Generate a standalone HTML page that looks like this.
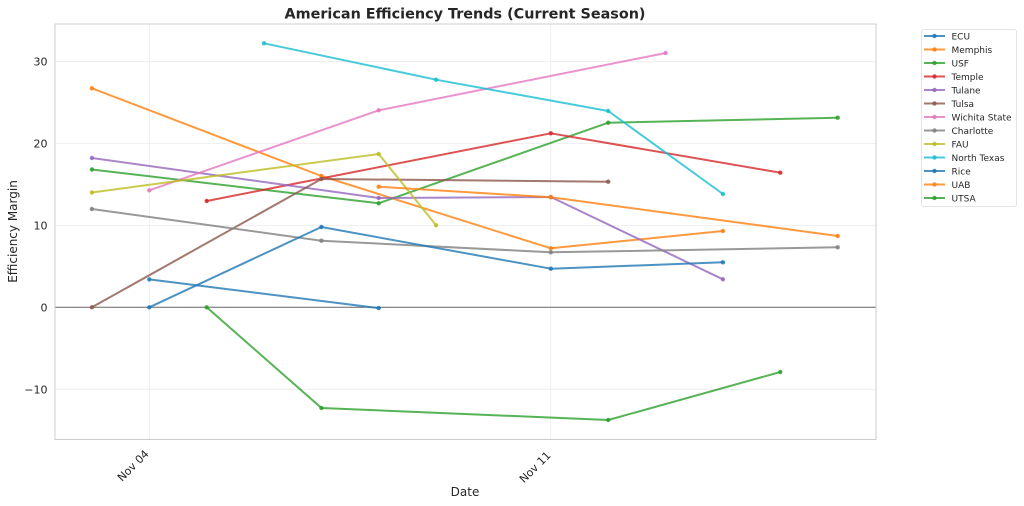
<!DOCTYPE html>
<html><head><meta charset="utf-8"><style>
html,body{margin:0;padding:0;background:#fff;}
svg{display:block;font-family:"DejaVu Sans","Liberation Sans",sans-serif;}
</style></head><body>
<svg width="1024" height="506" viewBox="0 0 1024 506" xmlns="http://www.w3.org/2000/svg">
<rect width="1024" height="506" fill="#fff"/>
<!-- grid -->
<g stroke="#ebebeb" stroke-width="0.8">
<line x1="55" y1="61.7" x2="876" y2="61.7"/>
<line x1="55" y1="143.5" x2="876" y2="143.5"/>
<line x1="55" y1="225.4" x2="876" y2="225.4"/>
<line x1="55" y1="389.3" x2="876" y2="389.3"/>
<line x1="149.3" y1="24" x2="149.3" y2="439.5"/>
<line x1="550.8" y1="24" x2="550.8" y2="439.5"/>
</g>
<!-- zero line -->
<line x1="55" y1="307.3" x2="876" y2="307.3" stroke="#666" stroke-width="1"/>
<!-- spines -->
<rect x="55" y="24" width="821" height="415.5" fill="none" stroke="#cccccc" stroke-width="1"/>
<!-- series -->
<g fill="none" stroke-width="2" stroke-opacity="0.8" stroke-linejoin="round" stroke-linecap="round">
<polyline stroke="#1f77b4" points="149.3,279.4 378.7,308.1"/>
<polyline stroke="#ff7f0e" points="91.9,88.3 321.4,176 550.8,248.3 722.9,231"/>
<polyline stroke="#2ca02c" points="91.9,169.5 378.7,203.3 608.2,122.7 837.7,117.7"/>
<polyline stroke="#d62728" points="206.7,201 550.8,133.3 780.3,172.7"/>
<polyline stroke="#9467bd" points="91.9,158 378.7,198 550.8,197 722.9,279.3"/>
<polyline stroke="#8c564b" points="91.9,307.3 321.4,179 608.2,181.7"/>
<polyline stroke="#e377c2" points="149.3,190.3 378.7,110.3 665.6,53"/>
<polyline stroke="#7f7f7f" points="91.9,209 321.4,240.7 550.8,252.3 837.7,247.3"/>
<polyline stroke="#bcbd22" points="91.9,192.5 378.7,154 436.1,225.3"/>
<polyline stroke="#17becf" points="264,43.3 436.1,79.7 608.2,111 722.9,194"/>
<polyline stroke="#1f77b4" points="149.3,307.3 321.4,227 550.8,268.7 722.9,262.3"/>
<polyline stroke="#ff7f0e" points="378.7,186.7 550.8,197.3 837.7,236"/>
<polyline stroke="#2ca02c" points="206.7,307.3 321.4,408 608.2,420 780.3,372"/>
</g>
<g fill-opacity="0.85">
<g fill="#1f77b4"><circle cx="149.3" cy="279.4" r="2.2"/><circle cx="378.7" cy="308.1" r="2.2"/></g>
<g fill="#ff7f0e"><circle cx="91.9" cy="88.3" r="2.2"/><circle cx="321.4" cy="176" r="2.2"/><circle cx="550.8" cy="248.3" r="2.2"/><circle cx="722.9" cy="231" r="2.2"/></g>
<g fill="#2ca02c"><circle cx="91.9" cy="169.5" r="2.2"/><circle cx="378.7" cy="203.3" r="2.2"/><circle cx="608.2" cy="122.7" r="2.2"/><circle cx="837.7" cy="117.7" r="2.2"/></g>
<g fill="#d62728"><circle cx="206.7" cy="201" r="2.2"/><circle cx="550.8" cy="133.3" r="2.2"/><circle cx="780.3" cy="172.7" r="2.2"/></g>
<g fill="#9467bd"><circle cx="91.9" cy="158" r="2.2"/><circle cx="378.7" cy="198" r="2.2"/><circle cx="550.8" cy="197" r="2.2"/><circle cx="722.9" cy="279.3" r="2.2"/></g>
<g fill="#8c564b"><circle cx="91.9" cy="307.3" r="2.2"/><circle cx="321.4" cy="179" r="2.2"/><circle cx="608.2" cy="181.7" r="2.2"/></g>
<g fill="#e377c2"><circle cx="149.3" cy="190.3" r="2.2"/><circle cx="378.7" cy="110.3" r="2.2"/><circle cx="665.6" cy="53" r="2.2"/></g>
<g fill="#7f7f7f"><circle cx="91.9" cy="209" r="2.2"/><circle cx="321.4" cy="240.7" r="2.2"/><circle cx="550.8" cy="252.3" r="2.2"/><circle cx="837.7" cy="247.3" r="2.2"/></g>
<g fill="#bcbd22"><circle cx="91.9" cy="192.5" r="2.2"/><circle cx="378.7" cy="154" r="2.2"/><circle cx="436.1" cy="225.3" r="2.2"/></g>
<g fill="#17becf"><circle cx="264" cy="43.3" r="2.2"/><circle cx="436.1" cy="79.7" r="2.2"/><circle cx="608.2" cy="111" r="2.2"/><circle cx="722.9" cy="194" r="2.2"/></g>
<g fill="#1f77b4"><circle cx="149.3" cy="307.3" r="2.2"/><circle cx="321.4" cy="227" r="2.2"/><circle cx="550.8" cy="268.7" r="2.2"/><circle cx="722.9" cy="262.3" r="2.2"/></g>
<g fill="#ff7f0e"><circle cx="378.7" cy="186.7" r="2.2"/><circle cx="550.8" cy="197.3" r="2.2"/><circle cx="837.7" cy="236" r="2.2"/></g>
<g fill="#2ca02c"><circle cx="206.7" cy="307.3" r="2.2"/><circle cx="321.4" cy="408" r="2.2"/><circle cx="608.2" cy="420" r="2.2"/><circle cx="780.3" cy="372" r="2.2"/></g>
</g>
<!-- y tick labels -->
<g font-size="11" fill="#262626" text-anchor="end">
<text x="47.5" y="65.7">30</text>
<text x="47.5" y="147.5">20</text>
<text x="47.5" y="229.4">10</text>
<text x="47.5" y="311.3">0</text>
<text x="47.5" y="393.3">−10</text>
</g>
<!-- x tick labels -->
<g font-size="11" fill="#262626" text-anchor="end">
<text transform="translate(149.5,454.5) rotate(-45)">Nov 04</text>
<text transform="translate(551.5,456) rotate(-45)">Nov 11</text>
</g>
<!-- axis labels -->
<text x="465" y="496" font-size="12" fill="#262626" text-anchor="middle">Date</text>
<text transform="translate(17,231.5) rotate(-90)" font-size="12" fill="#262626" text-anchor="middle">Efficiency Margin</text>
<!-- title -->
<text x="465" y="18.5" font-size="14" font-weight="bold" fill="#262626" text-anchor="middle" textLength="361" lengthAdjust="spacingAndGlyphs">American Efficiency Trends (Current Season)</text>
<!-- legend -->
<rect x="921.5" y="29.5" width="95" height="177" rx="2.5" fill="#fff" fill-opacity="0.8" stroke="#dddddd" stroke-width="0.8"/>
<g stroke-width="2" stroke-opacity="0.8">
<line x1="924" y1="36" x2="945" y2="36" stroke="#1f77b4"/>
<line x1="924" y1="49.5" x2="945" y2="49.5" stroke="#ff7f0e"/>
<line x1="924" y1="63" x2="945" y2="63" stroke="#2ca02c"/>
<line x1="924" y1="76.5" x2="945" y2="76.5" stroke="#d62728"/>
<line x1="924" y1="90" x2="945" y2="90" stroke="#9467bd"/>
<line x1="924" y1="103.5" x2="945" y2="103.5" stroke="#8c564b"/>
<line x1="924" y1="117" x2="945" y2="117" stroke="#e377c2"/>
<line x1="924" y1="130.5" x2="945" y2="130.5" stroke="#7f7f7f"/>
<line x1="924" y1="144" x2="945" y2="144" stroke="#bcbd22"/>
<line x1="924" y1="157.5" x2="945" y2="157.5" stroke="#17becf"/>
<line x1="924" y1="171" x2="945" y2="171" stroke="#1f77b4"/>
<line x1="924" y1="184.5" x2="945" y2="184.5" stroke="#ff7f0e"/>
<line x1="924" y1="198" x2="945" y2="198" stroke="#2ca02c"/>
</g>
<g fill-opacity="0.85">
<circle cx="934.5" cy="36" r="2.2" fill="#1f77b4"/>
<circle cx="934.5" cy="49.5" r="2.2" fill="#ff7f0e"/>
<circle cx="934.5" cy="63" r="2.2" fill="#2ca02c"/>
<circle cx="934.5" cy="76.5" r="2.2" fill="#d62728"/>
<circle cx="934.5" cy="90" r="2.2" fill="#9467bd"/>
<circle cx="934.5" cy="103.5" r="2.2" fill="#8c564b"/>
<circle cx="934.5" cy="117" r="2.2" fill="#e377c2"/>
<circle cx="934.5" cy="130.5" r="2.2" fill="#7f7f7f"/>
<circle cx="934.5" cy="144" r="2.2" fill="#bcbd22"/>
<circle cx="934.5" cy="157.5" r="2.2" fill="#17becf"/>
<circle cx="934.5" cy="171" r="2.2" fill="#1f77b4"/>
<circle cx="934.5" cy="184.5" r="2.2" fill="#ff7f0e"/>
<circle cx="934.5" cy="198" r="2.2" fill="#2ca02c"/>
</g>
<g font-size="9" fill="#262626">
<text x="951.5" y="39.3">ECU</text>
<text x="951.5" y="52.8">Memphis</text>
<text x="951.5" y="66.3">USF</text>
<text x="951.5" y="79.8">Temple</text>
<text x="951.5" y="93.3">Tulane</text>
<text x="951.5" y="106.8">Tulsa</text>
<text x="951.5" y="120.3">Wichita State</text>
<text x="951.5" y="133.8">Charlotte</text>
<text x="951.5" y="147.3">FAU</text>
<text x="951.5" y="160.8">North Texas</text>
<text x="951.5" y="174.3">Rice</text>
<text x="951.5" y="187.8">UAB</text>
<text x="951.5" y="201.3">UTSA</text>
</g>
</svg>
</body></html>
